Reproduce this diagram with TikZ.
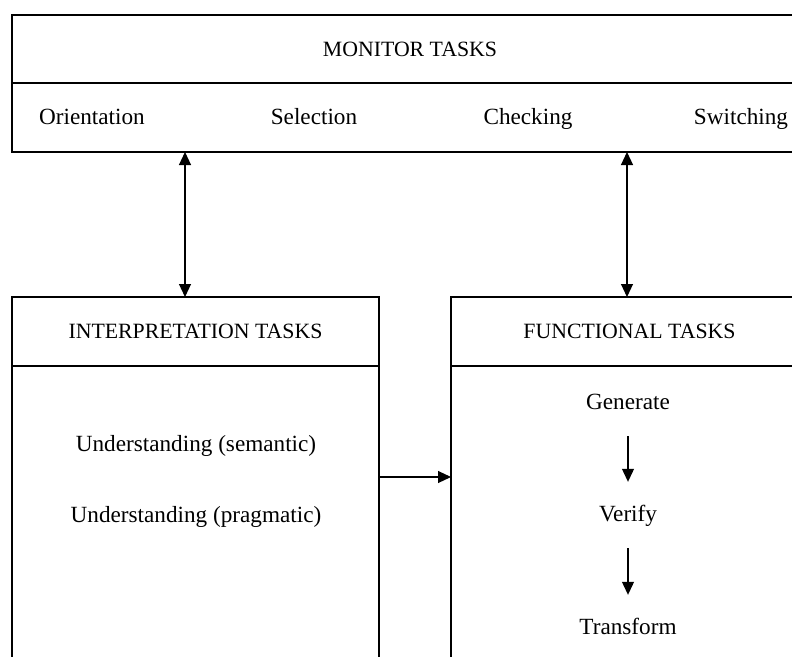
\documentclass[tikz,border=0pt]{standalone}
\usepackage{fontspec}
\setmainfont{Liberation Serif}
\usetikzlibrary{positioning, arrows.meta}

\begin{document}
\begin{tikzpicture}[
    x=1pt, y=-1pt,
    font=\fontsize{23.2}{28}\selectfont,
    panel/.style={draw, line width=1.6pt, outer sep=0pt, inner sep=0pt, text height=17pt, text depth=3pt, font=\fontsize{21.8}{26}\selectfont},
    task/.style={inner sep=0pt, text height=17pt, text depth=3pt},
    arrow/.style={-{Triangle[length=13pt, width=12pt]}, line width=1.1pt},
    dblarrow/.style={{Triangle[length=13pt, width=12pt]}-{Triangle[length=13pt, width=12pt]}, line width=1.1pt},
    flowarrow/.style={arrow, shorten <=24pt, shorten >=22pt},
]
\useasboundingbox (0,0) rectangle (792,656);
\clip (0,0) rectangle (792,656);

% Monitor tasks
\node[panel, minimum width=796pt, minimum height=68pt] at (410,49) (monitorhead) {MONITOR TASKS};
\node[panel, minimum width=796pt, minimum height=69pt, below=0pt of monitorhead] (monitorbody) {};
\node[task] at (92,117) (orient) {Orientation};
\node[task] at (314,117) (select) {Selection};
\node[task] at (528,117) (check) {Checking};
\node[task] at (741,117) (switch) {Switching};

% Interpretation tasks
\node[panel, minimum width=367pt, minimum height=69pt] at (195.5,331.5) (interphead) {INTERPRETATION TASKS};
\node[panel, minimum width=367pt, minimum height=314pt, below=0pt of interphead] (interpbody) {};
\node[task] at (196,444) (semantic) {Understanding (semantic)};
\node[task] at (196,515) (pragmatic) {Understanding (pragmatic)};

% Functional tasks
\node[panel, minimum width=357pt, minimum height=69pt] at (629.5,331.5) (funchead) {FUNCTIONAL TASKS};
\node[panel, minimum width=357pt, minimum height=314pt, below=0pt of funchead] (funcbody) {};
\node[task] at (628,402) (generate) {Generate};
\node[task] at (628,514) (verify) {Verify};
\node[task] at (628,627) (transform) {Transform};

% Arrows
\draw[dblarrow] ([xshift=-10.5pt]interphead.north) -- ([xshift=-10.5pt]interphead.north |- monitorbody.south);
\draw[dblarrow] ([xshift=-2.5pt]funchead.north) -- ([xshift=-2.5pt]funchead.north |- monitorbody.south);
\draw[arrow] ([yshift=46pt]interpbody.east) -- ([yshift=46pt]funcbody.west);
\draw[flowarrow] (generate) -- (verify);
\draw[flowarrow] (verify) -- (transform);

\end{tikzpicture}
\end{document}
